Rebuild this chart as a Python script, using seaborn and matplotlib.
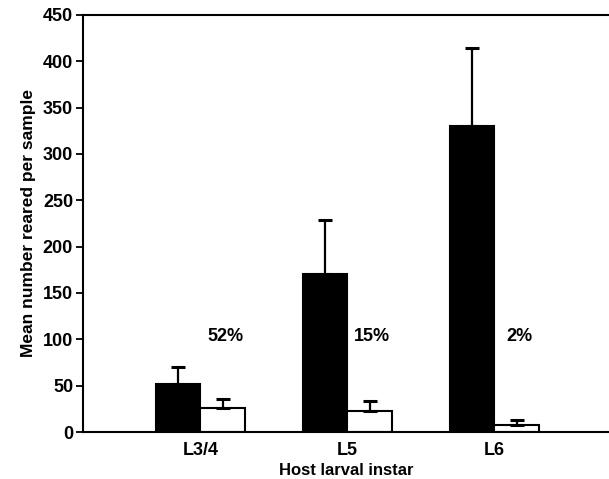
import pandas as pd
import numpy as np
import matplotlib
matplotlib.use('Agg')
import matplotlib.pyplot as plt
import seaborn as sns

# Values
instars = ['L3/4', 'L5', 'L6']
black_means = [52, 171, 330]
black_err = [18, 58, 84]
white_means = [26, 23, 8]
white_err = [10, 11, 5]
percents = ['52%', '15%', '2%']

data = pd.DataFrame({
    'instar': instars * 2,
    'mean': black_means + white_means,
    'group': ['a'] * 3 + ['b'] * 3,
})

sns.set_style('ticks')
plt.rcParams['font.family'] = ['Liberation Sans', 'DejaVu Sans']
plt.rcParams['font.weight'] = 'bold'
plt.rcParams['text.color'] = 'black'
plt.rcParams['axes.labelcolor'] = 'black'
plt.rcParams['xtick.color'] = 'black'
plt.rcParams['ytick.color'] = 'black'

fig = plt.figure(figsize=(6.09, 4.79), dpi=100)
ax = fig.add_axes([0.136, 0.098, 0.864, 0.871])

sns.barplot(data=data, x='instar', y='mean', hue='group', palette=['black', 'white'],
            edgecolor='black', linewidth=1.5, width=0.61, gap=0, errorbar=None, ax=ax,
            legend=False)

# upward-only error bars on top of each bar
for cont, errs in zip(ax.containers, [black_err, white_err]):
    xs = [p.get_x() + p.get_width() / 2 for p in cont.patches]
    ys = [p.get_height() for p in cont.patches]
    ax.errorbar(xs, ys, yerr=[np.zeros(len(errs)), errs], fmt='none',
                ecolor='black', elinewidth=1.6, capsize=5, capthick=2.2, zorder=1)

for i, txt in enumerate(percents):
    ax.text(i + 0.17, 103, txt, ha='center', va='center', fontsize=13, fontweight='bold')

ax.set_ylim(0, 450)
ax.set_xlim(-0.8, 2.78)
ax.set_yticks(np.arange(0, 451, 50))
ax.tick_params(axis='y', length=5, width=1.3, labelsize=13, pad=2)
ax.tick_params(axis='x', length=0, labelsize=13, pad=7)
for lab in ax.get_xticklabels() + ax.get_yticklabels():
    lab.set_fontweight('bold')

ax.spines['right'].set_visible(False)
for s in ['left', 'bottom', 'top']:
    ax.spines[s].set_linewidth(1.5)
    ax.spines[s].set_color('black')

ax.set_ylabel('Mean number reared per sample', fontsize=12.5, fontweight='bold', labelpad=5)
ax.set_xlabel('Host larval instar', fontsize=12, fontweight='bold', labelpad=3)

fig.savefig('out.png', dpi=100)
